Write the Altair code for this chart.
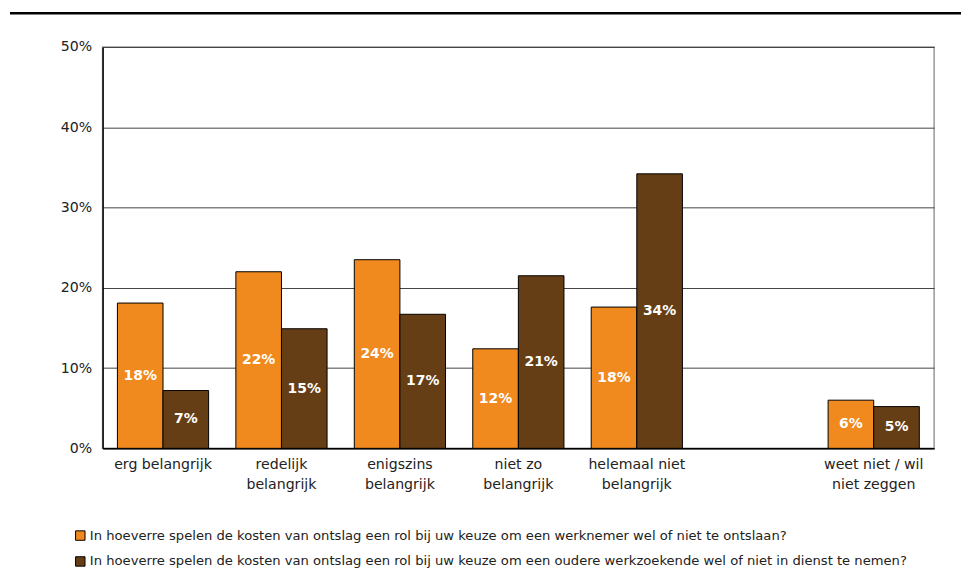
import altair as alt
import pandas as pd

categories = ["erg belangrijk", "redelijk|belangrijk", "enigszins|belangrijk",
              "niet zo|belangrijk", "helemaal niet|belangrijk", "weet niet / wil|niet zeggen"]
axis_domain = categories[:5] + [" "] + categories[5:]
series = [
    " In hoeverre spelen de kosten van ontslag een rol bij uw keuze om een werknemer wel of niet te ontslaan?",
    "In hoeverre spelen de kosten van ontslag een rol bij uw keuze om een oudere werkzoekende wel of niet in dienst te nemen?",
]
werknemer = [18.1, 22.0, 23.5, 12.4, 17.6, 6.0]
oudere = [7.2, 14.9, 16.7, 21.5, 34.2, 5.2]
labels_werknemer = ["18%", "22%", "24%", "12%", "18%", "6%"]
labels_oudere = ["7%", "15%", "17%", "21%", "34%", "5%"]
colors = ["#F0891E", "#663E15"]
y_ticks = [0, 10, 20, 30, 40, 50]

rows = []
for vals, labs, s in [(werknemer, labels_werknemer, series[0]), (oudere, labels_oudere, series[1])]:
    for c, v, l in zip(categories, vals, labs):
        rows.append({"cat": c, "serie": s, "value": v, "label": l})
df = pd.DataFrame(rows)

FONT = "DejaVu Sans"

x_enc = alt.X("cat:N", sort=axis_domain,
              scale=alt.Scale(domain=axis_domain, paddingInner=0.23, paddingOuter=0.125),
              axis=alt.Axis(title=None, ticks=False, labelAngle=0, labelPadding=9,
                            labelFontSize=14.2, labelColor="#222", labelLineHeight=20,
                            labelExpr="split(datum.label, '|')",
                            domainColor="black", domainWidth=1.5, labelLimit=300))
xoff = alt.XOffset("serie:N", sort=series,
                   scale=alt.Scale(domain=series, paddingInner=0, paddingOuter=0))
y_scale = alt.Scale(domain=[0, 50])

bars = alt.Chart(df).mark_bar(stroke="black", strokeWidth=1).encode(
    x=x_enc,
    xOffset=xoff,
    y=alt.Y("value:Q", scale=y_scale,
            axis=alt.Axis(title=None, values=y_ticks, labelExpr="datum.value + '%'",
                          ticks=False, labelPadding=11, labelFontSize=14.2, labelColor="#222",
                          grid=True, gridColor="#444", gridWidth=1,
                          domainColor="black", domainWidth=1.5)),
    color=alt.Color("serie:N", sort=series,
                    scale=alt.Scale(domain=series, range=colors),
                    legend=alt.Legend(title=None, orient="none", legendX=-29, legendY=484,
                                      direction="vertical", symbolType="square",
                                      symbolSize=90, symbolStrokeColor="black",
                                      symbolStrokeWidth=1, labelFontSize=13.2,
                                      labelColor="#222", labelLimit=2000, rowPadding=11,
                                      labelOffset=3)),
)

texts = alt.Chart(df).transform_calculate(mid="datum.value / 2").mark_text(
    color="white", fontWeight="bold", fontSize=14, font=FONT, baseline="middle"
).encode(
    x=alt.X("cat:N", sort=axis_domain),
    xOffset=alt.XOffset("serie:N", sort=series),
    y=alt.Y("mid:Q", scale=y_scale),
    text="label:N",
)

top_rule = alt.Chart(pd.DataFrame({"a": [0]})).mark_rule(color="black", strokeWidth=2.5).encode(
    x=alt.value(-93), x2=alt.value(862), y=alt.value(-34)
)

chart = alt.layer(bars, texts, top_rule).properties(
    width=835, height=403,
    padding={"top": 2, "left": 0, "right": 0, "bottom": 0},
).configure(font=FONT).configure_view(stroke="#999", strokeWidth=1.5)

chart.save("out.html", embed_options={"renderer": "svg", "actions": False})
